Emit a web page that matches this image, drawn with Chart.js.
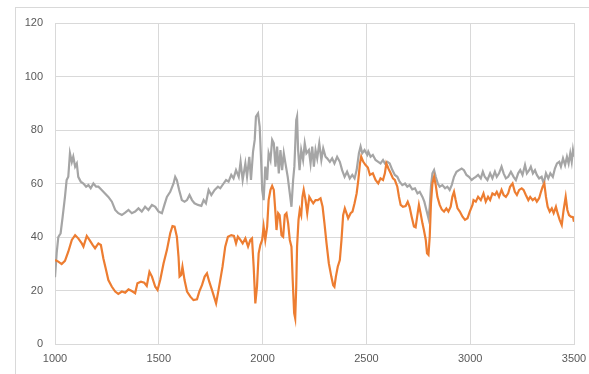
<!DOCTYPE html>
<html>
<head>
<meta charset="utf-8">
<script src="https://cdn.jsdelivr.net/npm/chart.js@4/dist/chart.umd.min.js"></script>
<style>
  html, body { margin: 0; padding: 0; background: #ffffff; overflow: hidden; }
  #wrap { position: relative; width: 589px; height: 374px; }
  #frame { position: absolute; left: 15px; top: 7px; width: 600px; height: 400px; border: 1px solid #d9d9d9; box-sizing: border-box; pointer-events: none; }
  canvas { position: absolute; left: 0; top: 0; }
</style>
</head>
<body>
<div id="wrap">
  <div id="frame"></div>
  <canvas id="chart" width="589" height="374"></canvas>
</div>
<script>
// Axis ticks
const xTicks = [1000, 1500, 2000, 2500, 3000, 3500];
const yTicks = [0, 20, 40, 60, 80, 100, 120];

// Grey series
const greyX = [1000, 1008, 1016, 1027, 1037, 1048, 1056, 1064, 1072, 1081, 1088, 1097, 1105, 1112, 1124, 1137, 1150, 1161, 1172, 1185, 1198, 1209, 1225, 1241, 1257, 1274, 1290, 1305, 1322, 1338, 1354, 1370, 1386, 1402, 1418, 1434, 1450, 1467, 1483,
  1499, 1515, 1527, 1539, 1555, 1571, 1579, 1587, 1598, 1611, 1624, 1636, 1648, 1660, 1672, 1689, 1705, 1716, 1727, 1740, 1753, 1769, 1785, 1796, 1812, 1824, 1836, 1849, 1860, 1872, 1885, 1894, 1904, 1917, 1925, 1936, 1944, 1954, 1962, 1968, 1978, 1986, 1994,
  1998, 2005, 2013, 2022, 2029, 2038, 2046, 2054, 2062, 2070, 2078, 2086, 2094, 2102, 2110, 2121, 2131, 2139, 2147, 2153, 2162, 2166, 2171, 2178, 2186, 2195, 2203, 2211, 2223, 2231, 2239, 2247, 2255, 2263, 2273, 2283, 2292, 2303, 2311, 2324, 2335, 2346, 2359, 2372, 2383, 2395, 2407, 2420, 2432, 2443, 2453, 2464, 2472, 2480, 2491,
  2504, 2509, 2520, 2531, 2544, 2557, 2568, 2580, 2589, 2601, 2612, 2625, 2637, 2649, 2660, 2673, 2686, 2697, 2708, 2721, 2734, 2746, 2757, 2770, 2779, 2789, 2799, 2805, 2811, 2818, 2826, 2834, 2844, 2853, 2866, 2879, 2890, 2901, 2911, 2922, 2934, 2946, 2959, 2970, 2982, 2994, 3007,
  3016, 3027, 3038, 3051, 3061, 3070, 3083, 3096, 3107, 3119, 3128, 3139, 3151, 3161, 3172, 3183, 3196, 3209, 3220, 3231, 3241, 3252, 3264, 3273, 3284, 3292, 3302, 3312, 3321, 3332, 3344, 3354, 3365, 3376, 3386, 3398, 3408, 3418, 3429, 3437, 3447, 3457, 3466, 3474, 3482, 3489, 3495, 3500];
const greyY = [25, 34, 40, 41.4, 47.6, 55, 61.3, 62.5, 71.3, 68, 70, 66.3, 67.5, 62.5, 60.7, 60, 58.8, 59.4, 58.2, 60, 58.8, 58.8, 57.6, 56.3, 55, 53.2, 50.1, 48.9, 48.2, 49.1, 50.1, 48.9, 49.5, 50.7, 49.5, 51.3, 50.1, 52, 51.3,
  49.5, 48.9, 52, 55, 56.9, 60, 62.5, 61.3, 57.6, 53.8, 53.2, 53.8, 55.7, 53.8, 52.6, 52, 51.6, 53.8, 52.6, 57.6, 55.7, 57.6, 58.8, 58.2, 60, 61.3, 60.7, 63.2, 61.9, 65, 62.5, 68.1, 61.3, 67.5, 62.5, 70, 61.3, 71.9, 76.3, 85, 86.2, 81.2, 66.3,
  57.6, 53.8, 66.3, 61.3, 71.3, 68.8, 76.3, 75, 66.3, 73.8, 63.8, 72.5, 65, 71.3, 67.5, 62.5, 56.3, 51.3, 61.3, 66.3, 83.7, 85, 72.5, 65, 72.5, 68.8, 75, 71.3, 72.5, 67.5, 73.8, 66.3, 72.5, 69.4, 75, 68.8, 73.1, 70, 69.4, 68.1, 69.4, 67.5, 70, 68.1, 65, 62.5, 64.4, 61.9, 63.2, 61.9, 65, 71.3, 73.8, 71.3, 72.5,
  70.7, 71.9, 70, 70.7, 68.8, 68.1, 67.5, 68.8, 67.5, 68.1, 67.5, 65, 63.2, 62.5, 60.7, 59.4, 60, 58.8, 59.4, 57.8, 58.2, 56.3, 56.9, 55, 53.2, 50.1, 47, 51.3, 58.8, 63.8, 65, 62.5, 60, 58.8, 59.4, 58.2, 58.8, 57.6, 59.4, 62.5, 64.4, 65, 65.6, 65, 63.2, 62.5, 61.3,
  61.9, 62.5, 63.2, 61.9, 64.4, 62.5, 61.3, 63.8, 61.9, 64.4, 62.5, 63.8, 66.3, 63.8, 61.9, 62.5, 64.4, 62.5, 61.3, 63.8, 65, 63.2, 66.9, 63.8, 65, 66.3, 63.8, 65, 63.2, 61.9, 62.5, 60, 63.8, 61.9, 63.8, 62.5, 65.6, 67.5, 68.1, 66.3, 69.4, 66.9, 70, 67.5, 71.3, 68.1, 72.5, 70];

// Orange series
const orangeX = [1000, 1016, 1032, 1048, 1064, 1081, 1097, 1112, 1129, 1137, 1153, 1166, 1182, 1193, 1209, 1221, 1233, 1246, 1257, 1274, 1290, 1305, 1322, 1338, 1354, 1370, 1386, 1397, 1414, 1430, 1442, 1455, 1467, 1483, 1494,
  1507, 1523, 1539, 1555, 1566, 1576, 1587, 1595, 1600, 1608, 1614, 1624, 1636, 1652, 1667, 1684, 1695, 1708, 1721, 1732, 1743, 1756, 1766, 1776, 1785, 1796, 1807, 1820, 1833, 1849, 1862, 1872, 1881, 1893, 1904, 1917, 1930, 1941, 1949, 1957, 1965, 1973, 1981,
  1989, 1998, 2005, 2013, 2022, 2029, 2038, 2046, 2054, 2062, 2067, 2075, 2082, 2091, 2099, 2107, 2115, 2123, 2131, 2139, 2145, 2152, 2157, 2162, 2166, 2173, 2179, 2186, 2192, 2198, 2207, 2215, 2225, 2234, 2244, 2255, 2266, 2279, 2289, 2298, 2308, 2319, 2331, 2340, 2346, 2353, 2362, 2372, 2380, 2388, 2396, 2404, 2412, 2424, 2433, 2443, 2453, 2461, 2469, 2475, 2485,
  2496, 2507, 2517, 2531, 2544, 2557, 2568, 2580, 2589, 2596, 2606, 2617, 2628, 2637, 2649, 2657, 2665, 2676, 2689, 2699, 2708, 2718, 2729, 2737, 2747, 2753, 2761, 2770, 2777, 2786, 2792, 2799, 2805, 2811, 2818, 2826, 2834, 2842, 2853, 2863, 2874, 2885, 2895, 2906, 2914, 2922, 2930, 2939, 2950, 2963, 2975, 2987, 2998, 3011,
  3016, 3027, 3038, 3051, 3064, 3075, 3086, 3096, 3107, 3119, 3128, 3139, 3151, 3161, 3172, 3183, 3192, 3204, 3215, 3225, 3236, 3248, 3257, 3268, 3280, 3289, 3301, 3312, 3321, 3332, 3341, 3349, 3357, 3365, 3373, 3383, 3393, 3402, 3413, 3421, 3431, 3441, 3450, 3460, 3468, 3476, 3485, 3495, 3500];
const orangeY = [31.4, 30.8, 29.9, 31.1, 34.5, 38.9, 40.7, 39.5, 37.6, 36.4, 40.4, 38.9, 37, 35.8, 37.6, 37, 32, 27.7, 23.9, 21.4, 19.6, 18.7, 19.6, 19.2, 20.4, 19.8, 19, 22.7, 23.3, 22.9, 21.7, 27, 25.2, 21.4, 20.2,
  24, 30.2, 35.1, 41.4, 44.1, 43.9, 40.1, 32.6, 25.2, 25.8, 28.9, 23.9, 19.6, 17.7, 16.4, 16.7, 19.6, 22, 25.2, 26.4, 23.3, 20.2, 17.7, 15.2, 19, 23.9, 28.9, 36.4, 40.1, 40.7, 40.4, 37.6, 40.1, 38.9, 37.6, 39.5, 36.4, 38.9, 39.5, 28.9, 15.2, 21.4, 33.9,
  37, 38.9, 43.9, 38.9, 43.9, 53.8, 57.6, 59.1, 57.6, 48.9, 42.6, 48.9, 48.2, 40.7, 40.1, 48.2, 48.9, 45.1, 38.9, 36.4, 23.9, 11.5, 9.6, 21.4, 36.4, 46.4, 50.1, 48.2, 55, 57.6, 53.8, 48.9, 55, 53.8, 52.6, 53.8, 53.8, 54.5, 51.3, 45.1, 37.6, 30.2, 25.2, 22, 21.4, 25.2, 28.9, 31.4, 38.9, 48.2, 50.7, 48.9, 47, 48.9, 49.5, 52.6, 56.3, 61.3, 67.5, 70, 68.1,
  66.9, 66, 63.2, 63.8, 61.3, 60, 61.9, 61.3, 63.8, 67.5, 65.6, 63.8, 61.9, 61.3, 58.8, 55, 52, 51.3, 51.6, 53.2, 51.3, 47.6, 43.9, 43.6, 48.9, 52, 48.9, 45.1, 42.6, 38.9, 33.9, 33.3, 40.1, 52.6, 60, 62.5, 59.4, 55, 52, 50.3, 49.5, 50.7, 49.5, 51.3, 55, 56.9, 53.8, 50.7, 49.5, 47.6, 46.4, 47, 49.5, 52,
  53.8, 53.2, 55, 53.8, 56.3, 53.2, 55, 53.8, 56.3, 55.7, 56.9, 55, 57.6, 55.7, 55, 56.3, 58.8, 60, 56.9, 55.7, 57.6, 58.2, 57.6, 55.7, 53.8, 55, 53.8, 54.5, 53.2, 54.5, 56.9, 58.8, 60, 55, 51.3, 49.5, 50.7, 48.9, 51.3, 48.9, 46.4, 44.5, 50.1, 55, 50.1, 48.2, 47.6, 47.4, 45.7];

const toPoints = (xs, ys) => xs.map((x, i) => ({ x: x, y: ys[i] }));

const tickFont = { family: "'Liberation Sans', Arial, sans-serif", size: 11 };
const tickColor = '#595959';
const gridColor = '#d9d9d9';

new Chart(document.getElementById('chart'), {
  type: 'line',
  data: {
    datasets: [
      {
        data: toPoints(greyX, greyY),
        borderColor: '#a5a5a5',
        borderWidth: 2.2,
        pointRadius: 0,
        tension: 0,
        fill: false,
        order: 2
      },
      {
        data: toPoints(orangeX, orangeY),
        borderColor: '#ed7d31',
        borderWidth: 2.2,
        pointRadius: 0,
        tension: 0,
        fill: false,
        order: 1
      }
    ]
  },
  options: {
    responsive: false,
    animation: false,
    layout: { padding: { left: 0, top: 23, right: 15, bottom: 0 } },
    plugins: { legend: { display: false }, tooltip: { enabled: false } },
    scales: {
      x: {
        type: 'linear',
        min: xTicks[0],
        max: xTicks[xTicks.length - 1],
        afterBuildTicks: (scale) => { scale.ticks = xTicks.map(v => ({ value: v })); },
        afterFit: (scale) => {
          scale.height = 30;
          scale.paddingLeft = 0;
          scale.paddingRight = 0;
        },
        ticks: { font: tickFont, color: tickColor, padding: 8, maxRotation: 0, callback: (v) => String(v) },
        grid: { color: gridColor, lineWidth: 1, drawTicks: false },
        border: { display: true, color: gridColor }
      },
      y: {
        type: 'linear',
        min: yTicks[0],
        max: yTicks[yTicks.length - 1],
        afterBuildTicks: (scale) => { scale.ticks = yTicks.map(v => ({ value: v })); },
        afterFit: (scale) => {
          scale.width = 55;
          scale.paddingTop = 0;
          scale.paddingBottom = 0;
        },
        ticks: { font: tickFont, color: tickColor, padding: 12, callback: (v) => String(v) },
        grid: { color: gridColor, lineWidth: 1, drawTicks: false },
        border: { display: true, color: gridColor }
      }
    }
  }
});
</script>
</body>
</html>
